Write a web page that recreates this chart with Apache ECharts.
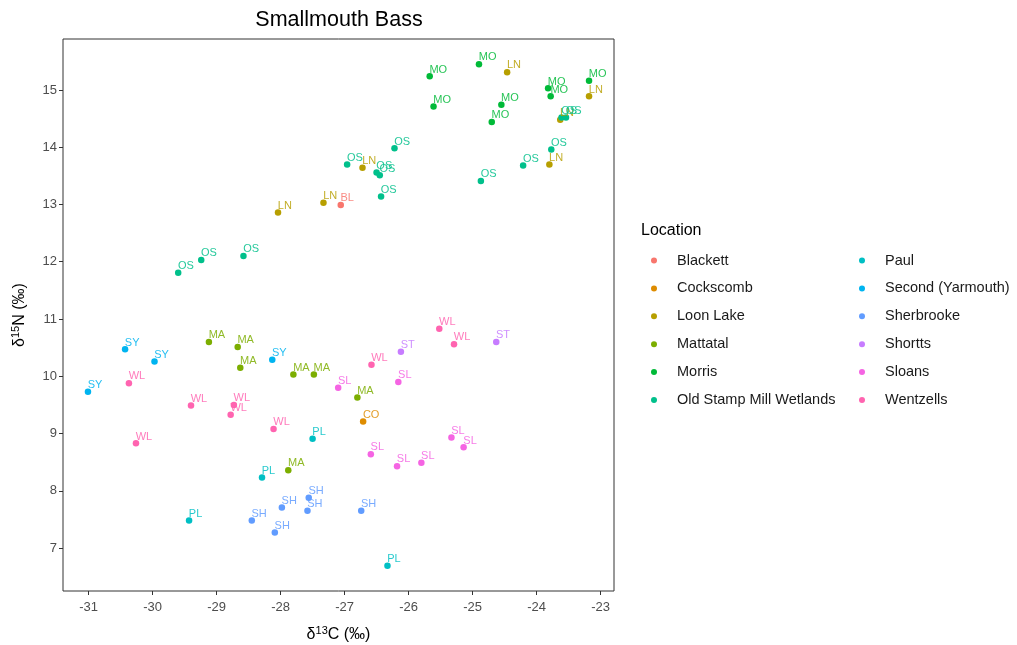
<!DOCTYPE html>
<html>
<head>
<meta charset="utf-8">
<script src="https://cdn.jsdelivr.net/npm/echarts@6/dist/echarts.min.js"></script>
<style>
  html, body { margin: 0; padding: 0; background: #fff; }
  #chart { width: 1017px; height: 645px; }
</style>
</head>
<body>
<div id="chart"></div>
<script>
// Sampling locations, their short codes and ggplot-style hue colours
const locations = ['Blackett', 'Cockscomb', 'Loon Lake', 'Mattatal', 'Morris', 'Old Stamp Mill Wetlands',
                   'Paul', 'Second (Yarmouth)', 'Sherbrooke', 'Shortts', 'Sloans', 'Wentzells'];
const codes = ['BL', 'CO', 'LN', 'MA', 'MO', 'OS', 'PL', 'SY', 'SH', 'ST', 'SL', 'WL'];
const colors = ['#F8766D', '#DE8C00', '#B79F00', '#7CAE00', '#00BA38', '#00C08B',
                '#00BFC4', '#00B4F0', '#619CFF', '#C77CFF', '#F564E3', '#FF64B0'];

// [d13C, d15N] per fish, one array per location
const blackett = [[-27.06, 12.99]];
const cockscomb = [[-26.71, 9.21]];
const loonLake = [[-28.04, 12.86], [-27.33, 13.03], [-26.72, 13.64], [-24.46, 15.31],
                  [-23.18, 14.89], [-23.63, 14.48], [-23.80, 13.70]];
const mattatal = [[-29.12, 10.60], [-28.67, 10.51], [-28.63, 10.15], [-27.80, 10.03],
                  [-27.48, 10.03], [-26.80, 9.63], [-27.88, 8.36]];
const morris = [[-25.67, 15.24], [-24.90, 15.45], [-25.61, 14.71], [-24.55, 14.74],
                [-24.70, 14.44], [-23.82, 15.03], [-23.78, 14.89], [-23.18, 15.16]];
const oldStampMill = [[-29.60, 11.81], [-29.24, 12.03], [-28.58, 12.10], [-26.96, 13.70],
                      [-26.50, 13.56], [-26.45, 13.51], [-26.22, 13.98], [-26.43, 13.14],
                      [-24.87, 13.41], [-24.21, 13.68], [-23.77, 13.96], [-23.61, 14.52],
                      [-23.54, 14.52]];
const paul = [[-27.50, 8.91], [-28.29, 8.23], [-29.43, 7.48], [-26.33, 6.69]];
const secondYarmouth = [[-30.43, 10.47], [-29.97, 10.26], [-31.01, 9.73], [-28.13, 10.29]];
const sherbrooke = [[-28.45, 7.48], [-27.98, 7.71], [-28.09, 7.27], [-27.56, 7.88],
                    [-27.58, 7.65], [-26.74, 7.65]];
const shortts = [[-26.12, 10.43], [-24.63, 10.60]];
const sloans = [[-27.10, 9.80], [-26.16, 9.90], [-25.33, 8.93], [-25.14, 8.76],
                [-26.59, 8.64], [-26.18, 8.43], [-25.80, 8.49]];
const wentzells = [[-30.37, 9.88], [-29.40, 9.49], [-28.73, 9.50], [-28.78, 9.33],
                   [-28.11, 9.08], [-30.26, 8.83], [-26.58, 10.20], [-25.52, 10.83],
                   [-25.29, 10.56]];

const seriesValues = [blackett, cockscomb, loonLake, mattatal, morris, oldStampMill,
                      paul, secondYarmouth, sherbrooke, shortts, sloans, wentzells];

// Axis ticks
const xTicks = [-31, -30, -29, -28, -27, -26, -25, -24, -23];
const yTicks = [7, 8, 9, 10, 11, 12, 13, 14, 15];

const FONT = 'Liberation Sans, Arial, sans-serif';

const series = locations.map((name, i) => ({
  name: name,
  type: 'scatter',
  symbol: 'circle',
  symbolSize: 6.5,
  data: seriesValues[i],
  itemStyle: { color: colors[i], opacity: 1 },
  label: {
    show: true,
    formatter: () => codes[i],
    position: [3, 2],
    align: 'left',
    verticalAlign: 'bottom',
    color: colors[i],
    opacity: 0.85,
    fontFamily: FONT,
    fontSize: 11,
    lineHeight: 11
  },
  labelLayout: { hideOverlap: false },
  emphasis: { disabled: true }
}));

const legendCommon = {
  orient: 'vertical',
  icon: 'circle',
  itemWidth: 36,
  itemHeight: 6,
  itemGap: 12.9,
  textStyle: { fontFamily: FONT, fontSize: 14.5, color: '#1a1a1a', lineHeight: 15 },
  selectedMode: false
};

const axisNameRich = {
  d: { fontFamily: FONT, fontSize: 16, color: '#000', verticalAlign: 'bottom' },
  sup: { fontFamily: FONT, fontSize: 11, color: '#000', verticalAlign: 'top', padding: [0, 0, 7, 0] }
};

const chart = echarts.init(document.getElementById('chart'), null, { renderer: 'canvas' });
chart.setOption({
  animation: false,
  backgroundColor: '#fff',
  title: [
    {
      text: 'Smallmouth Bass',
      left: 334, top: 4, textAlign: 'center',
      textStyle: { fontFamily: FONT, fontSize: 21.5, fontWeight: 'normal', color: '#000' }
    },
    {
      text: 'Location',
      left: 636, top: 218,
      textStyle: { fontFamily: FONT, fontSize: 16, fontWeight: 'normal', color: '#000' }
    }
  ],
  legend: [
    Object.assign({ data: locations.slice(0, 6), left: 646, top: 248 }, legendCommon),
    Object.assign({ data: locations.slice(6), left: 854, top: 248 }, legendCommon)
  ],
  grid: {
    left: 63, right: 403, top: 39, bottom: 54,
    outerBoundsMode: 'none',
    containLabel: false,
    show: true, borderColor: '#333', borderWidth: 1, backgroundColor: '#fff'
  },
  xAxis: {
    type: 'value',
    min: -31.40, max: -22.79,
    name: '{d|δ}{sup|13}{d|C (‰)}',
    nameLocation: 'middle',
    nameGap: 34,
    nameTextStyle: { rich: axisNameRich },
    axisLine: { show: false },
    splitLine: { show: false },
    axisTick: { show: true, length: 4, lineStyle: { color: '#333' }, customValues: xTicks },
    axisLabel: {
      customValues: xTicks, color: '#4D4D4D', fontFamily: FONT, fontSize: 13, margin: 10
    }
  },
  yAxis: {
    type: 'value',
    min: 6.25, max: 15.89,
    name: '{d|δ}{sup|15}{d|N (‰)}',
    nameLocation: 'middle',
    nameGap: 35,
    nameRotate: 90,
    nameTextStyle: { rich: axisNameRich },
    axisLine: { show: false },
    splitLine: { show: false },
    axisTick: { show: true, length: 4, lineStyle: { color: '#333' }, customValues: yTicks },
    axisLabel: {
      customValues: yTicks, color: '#4D4D4D', fontFamily: FONT, fontSize: 13, margin: 6
    }
  },
  series: series
});
</script>
</body>
</html>
